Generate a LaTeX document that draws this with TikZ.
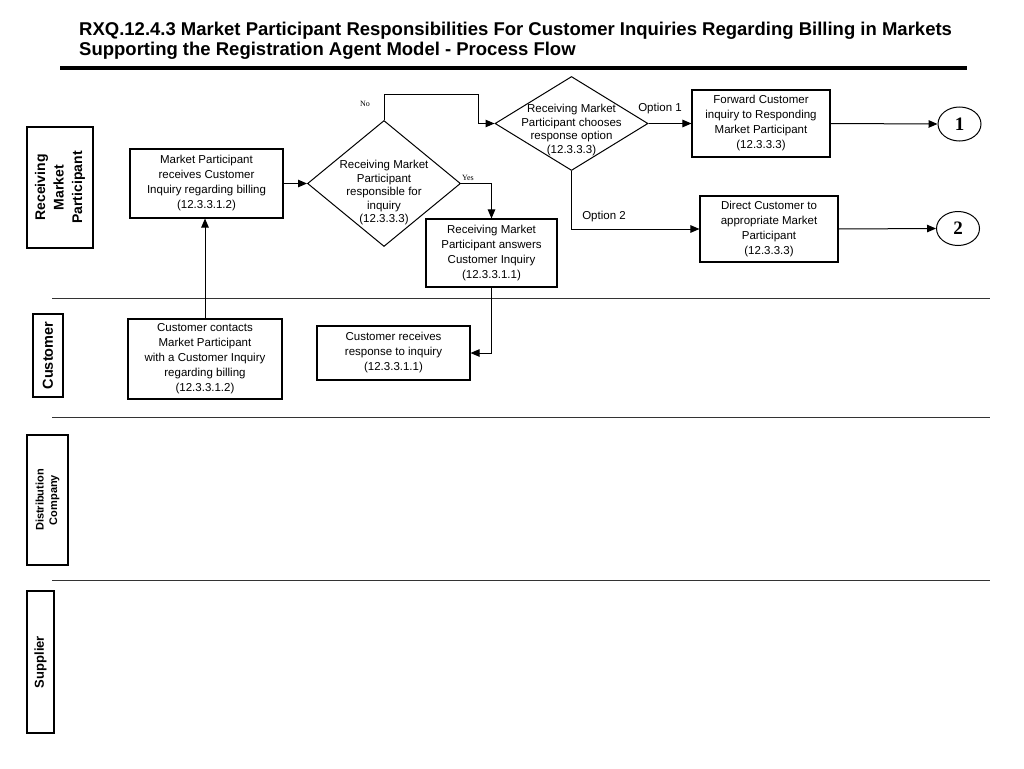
\documentclass[tikz,border=0pt]{standalone}
\usepackage{fontspec}
\setmainfont{Liberation Sans}
\newfontfamily\serifnum{Liberation Serif}
\usetikzlibrary{shapes.geometric,arrows.meta}

\tikzset{
  stepbox/.style={draw,line width=1.1pt,align=center,inner sep=1pt,
    font=\fontsize{11.5}{15}\selectfont},
  decision/.style={draw,diamond,line width=1pt,inner sep=0pt},
  dtext/.style={align=center,inner sep=0pt,font=\fontsize{11.5}{13.5}\selectfont},
  lanebox/.style={draw,line width=1.1pt,rotate=90,align=center,inner sep=1pt,
    font=\bfseries\fontsize{14}{18.5}\selectfont},
  lane/.style={line width=0.9pt,black!80},
  flow/.style={line width=1pt,-{Triangle[length=9pt,width=7.5pt]}},
  connector/.style={draw,ellipse,line width=1pt,minimum width=43pt,minimum height=34pt,
    inner sep=0pt,font=\serifnum\bfseries\fontsize{19}{19}\selectfont},
  tiny/.style={inner sep=0pt,font=\serifnum\fontsize{8}{8}\selectfont},
  optlabel/.style={inner sep=0pt,font=\fontsize{11.5}{11.5}\selectfont}
}

\begin{document}
\begin{tikzpicture}[x=1pt,y=-1pt]

\useasboundingbox (0,0) rectangle (1024,768);

% title
\node[anchor=north west,align=left,inner sep=0pt,
  font=\bfseries\fontsize{18.5}{20}\selectfont] (title) at (79,22)
  {RXQ.12.4.3 Market Participant Responsibilities For Customer Inquiries Regarding Billing in Markets\\
   Supporting the Registration Agent Model - Process Flow};
\draw[line width=4pt] (60,68) -- (967,68);

% lanes
\node[lanebox,minimum width=121pt,minimum height=66pt] (laneRMP) at (60,187.5)
  {Receiving\\Market\\Participant};
\node[lanebox,minimum width=83pt,minimum height=30pt,
  font=\bfseries\fontsize{14.5}{15}\selectfont] (laneCust) at (48,355.5) {Customer};
\node[lanebox,minimum width=130pt,minimum height=41pt,
  font=\bfseries\fontsize{11}{13.5}\selectfont] (laneDist) at (47.5,500) {Distribution\\Company};
\node[lanebox,minimum width=142pt,minimum height=27pt,
  font=\bfseries\fontsize{13}{15}\selectfont] (laneSupp) at (40.5,662) {Supplier};

\draw[lane] (52,298) -- (990,298);
\draw[lane] (52,417) -- (990,417);
\draw[lane] (52,580) -- (990,580);

% receiving market participant
\node[stepbox,minimum width=153pt,minimum height=69pt] (mprecv) at (206.5,183.5)
  {Market Participant\\receives Customer\\Inquiry regarding billing\\(12.3.3.1.2)};
\node[decision,minimum width=153pt,minimum height=126pt] (resp) at (384,183.5) {};
\node[dtext] (resptxt) at (384,193)
  {Receiving Market\\Participant\\responsible for\\inquiry\\(12.3.3.3)};
\node[decision,minimum width=153pt,minimum height=94pt] (choose) at (571.5,123.5) {};
\node[dtext] (choosetxt) at (571.5,130)
  {Receiving Market\\Participant chooses\\response option\\(12.3.3.3)};
\node[stepbox,minimum width=131pt,minimum height=68pt] (answer) at (491.5,253)
  {Receiving Market\\Participant answers\\Customer Inquiry\\(12.3.3.1.1)};
\node[stepbox,minimum width=138pt,minimum height=67pt] (forward) at (761,123.5)
  {Forward Customer\\inquiry to Responding\\Market Participant\\(12.3.3.3)};
\node[stepbox,minimum width=138pt,minimum height=66pt] (direct) at (769,229)
  {Direct Customer to\\appropriate Market\\Participant\\(12.3.3.3)};
\node[connector] (conn1) at (959.5,124) {1};
\node[connector] (conn2) at (958,228.5) {2};

% customer
\node[stepbox,minimum width=154pt,minimum height=80pt] (contact) at (205,359)
  {Customer contacts\\Market Participant\\with a Customer Inquiry\\regarding billing\\(12.3.3.1.2)};
\node[stepbox,minimum width=153pt,minimum height=54pt] (custrecv) at (393.5,353)
  {Customer receives\\response to inquiry\\(12.3.3.1.1)};

% flows
\coordinate (nobend) at (478,94);
\draw[flow] (contact.north) -- (contact.north |- mprecv.south);
\draw[flow] (mprecv.east) -- (resp.west);
\draw[flow] (resp.north) |- (nobend) |- (choose.west);
\draw[flow] (resp.east) -| (answer.north);
\draw[flow] (choose.east) -- (forward.west);
\draw[flow] (choose.south) |- (direct.west);
\draw[flow] (forward.east) -- (conn1.west);
\draw[flow] (direct.east) -- (conn2.west);
\draw[flow] (answer.south) |- (custrecv.east);

\node[tiny] (nolbl) at (365,104) {No};
\node[tiny] (yeslbl) at (468,178) {Yes};
\node[optlabel] (opt1) at (660,109) {Option 1};
\node[optlabel] (opt2) at (604,217) {Option 2};

\end{tikzpicture}
\end{document}
